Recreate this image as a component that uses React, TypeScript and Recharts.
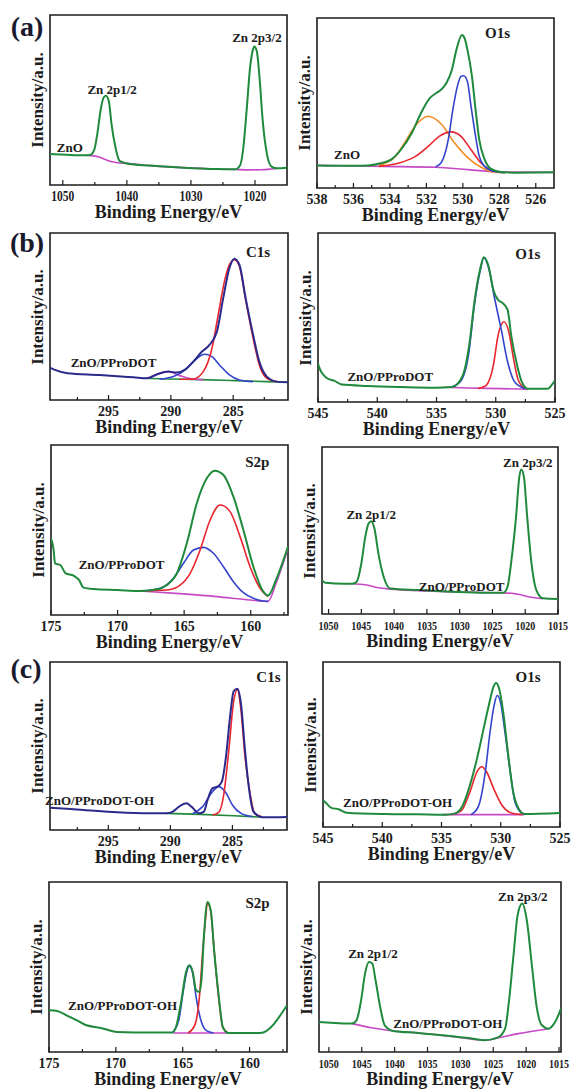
import React from "react";
import { LineChart, Line, XAxis, YAxis, ReferenceArea, ReferenceDot } from "recharts";

type Pt = [number, number];

const FONT = "'Liberation Serif', 'Times New Roman', Times, serif";
const INK = "#1c1c1c";
const GREEN = "#1f8a3c";
const MAGENTA = "#c64ac6";
const RED = "#e8262e";
const BLUE = "#3344cc";
const NAVY = "#2b2a8c";
const ORANGE = "#f28a22";

// ---- (a) ZnO, Zn 2p
const A_ZN_ENV: Pt[] = [[1052, 18.2], [1049.4, 17.8], [1046.5, 17.5], [1045.75, 17.6], [1045.1, 20.6], [1044.6, 30.4], [1044.1, 44], [1043.6, 51.6], [1043.25, 52.5], [1042.8, 49], [1042.4, 36], [1041.8, 22.5], [1041.1, 14], [1040, 12.7], [1036.4, 11.4], [1031.2, 10.2], [1026, 9.4], [1023.1, 9.2], [1022.3, 11.8], [1021.8, 22.5], [1021.3, 44], [1020.75, 69.6], [1020.3, 79.8], [1020.1, 81.4], [1019.7, 78.4], [1019.3, 63.7], [1018.8, 38.2], [1018.1, 17.6], [1017.4, 10.8], [1016.6, 9.8], [1015, 10.2]];
const A_ZN_BASE: Pt[] = [[1046.5, 17.5], [1045.5, 17.3], [1044.5, 16.6], [1043.5, 15.2], [1042.5, 13.8], [1041.5, 13.1], [1040, 12.7], [1036.4, 11.4], [1031.2, 10.2], [1026, 9.4], [1023.1, 9.1], [1021, 8.9], [1019, 9.0], [1017.4, 9.4], [1016.5, 9.7]];

// ---- (a) ZnO, O1s
const A_O_ENV: Pt[] = [[538, 13.3], [536.1, 13.1], [535.2, 13.3], [534.45, 14.7], [533.9, 17], [533.4, 22.5], [532.8, 32.4], [532.3, 44], [531.8, 53], [531.45, 55.9], [531.2, 57.8], [530.9, 61.8], [530.6, 69.6], [530.35, 81.4], [530.05, 90], [529.9, 88], [529.75, 81.4], [529.5, 65.7], [529.3, 46], [529.1, 28.4], [528.8, 16.7], [528.45, 11.2], [527.9, 9.4], [527, 9], [525, 9.2]];
const A_O_BLUE: Pt[] = [[531.5, 12.5], [531.2, 14.7], [530.8, 28.4], [530.55, 46], [530.3, 59.8], [530.1, 65.7], [529.95, 66], [529.75, 62.7], [529.55, 48], [529.3, 30.4], [529.1, 18.6], [528.8, 12.7], [528.3, 9.8], [527.7, 9]];
const A_O_RED: Pt[] = [[534.6, 12.7], [533.5, 14.7], [532.6, 18.6], [531.9, 24.5], [531.3, 30.4], [530.65, 33], [530.1, 30.4], [529.55, 22.5], [529, 14.7], [528.45, 10.4], [527.7, 9.2]];
const A_O_ORANGE: Pt[] = [[534.6, 13.3], [533.7, 18.6], [533.2, 26.5], [532.55, 37.3], [531.9, 42.2], [531.2, 37.8], [530.45, 26.5], [529.7, 17.6], [529, 12.2], [528.3, 9.4], [527.7, 9]];
const A_O_BASE: Pt[] = [[538, 13.3], [534.3, 12.7], [531.5, 12.2], [529.7, 10.8], [527.9, 9.4], [525, 9.2]];

// ---- (b) ZnO/PProDOT, C1s
const B_C_ENV: Pt[] = [[299.7, 19.4], [299.3, 18], [298.3, 16], [295.7, 15], [293, 13.6], [291.9, 13], [291.1, 15.4], [290.2, 17], [289.5, 16.4], [288.9, 18], [288.2, 23], [287.5, 29], [286.9, 33], [286.3, 41], [285.8, 61], [285.3, 79], [284.9, 84.6], [284.5, 81], [284, 61], [283.4, 39], [282.9, 23], [282.3, 14], [281.5, 11], [280.6, 10.6]];
const B_C_RED: Pt[] = [[289.3, 12.4], [288.2, 12.6], [287.4, 17], [286.7, 31], [286.2, 51], [285.7, 71], [285.3, 81], [284.9, 84], [284.5, 80], [284, 60], [283.4, 37], [282.9, 21], [282.3, 13], [281.5, 11]];
const B_C_BLUE: Pt[] = [[290.9, 12.4], [289.8, 14], [288.7, 19], [287.9, 25], [287.3, 27.4], [286.7, 26], [286.1, 21], [285.3, 15], [284.5, 12], [283.4, 11]];
const B_C_MAG: Pt[] = [[291.9, 13], [291.1, 15.4], [290.2, 17], [289.3, 14.6], [288.3, 12.6], [287.4, 12.2]];
const B_C_BASE: Pt[] = [[292.2, 13], [290.3, 12.6], [287.6, 12.2], [284.9, 11.6], [282.3, 11], [280.6, 10.6]];

// ---- (b) ZnO/PProDOT, O1s
const B_O_ENV: Pt[] = [[545, 22.8], [544.8, 18.8], [544.5, 15.8], [544.2, 13.9], [543.6, 12.5], [543, 10.3], [540.8, 9.5], [538, 8.9], [535.1, 8.5], [533.7, 8.9], [533.2, 10.9], [532.6, 19.8], [532.2, 35.6], [531.8, 59.4], [531.3, 79.2], [531, 85.7], [530.6, 80.2], [530.2, 66.3], [529.8, 60.4], [529.4, 58.4], [529, 54.5], [528.7, 39.6], [528.2, 21.8], [527.8, 11.9], [527.3, 7.9], [525.6, 7.9], [525.3, 9.9], [525, 12.9]];
const B_O_BLUE: Pt[] = [[533.7, 8.9], [532.9, 12.9], [532.3, 27.7], [531.8, 57.4], [531.3, 78.2], [531, 85.5], [530.6, 79.2], [530.1, 61.4], [529.5, 41.6], [529, 23.8], [528.4, 11.9], [527.5, 7.9]];
const B_O_RED: Pt[] = [[531.5, 7.9], [530.8, 9.9], [530.2, 21.8], [529.8, 39.6], [529.3, 47.5], [528.9, 41.6], [528.5, 25.7], [528.1, 12.9], [527.5, 7.9]];
const B_O_BASE: Pt[] = [[534.3, 8.7], [532.3, 8.3], [529.5, 7.9], [527.3, 7.5]];

// ---- (b) ZnO/PProDOT, S2p
const B_S_ENV: Pt[] = [[175, 45], [174.8, 38.2], [174.7, 30.4], [174.3, 29.4], [173.9, 24.5], [173.3, 23.1], [172.9, 20.6], [172.55, 16.1], [171.8, 15.3], [170, 14.7], [168.3, 14.1], [167, 15.1], [166.3, 17.6], [165.55, 24.5], [164.8, 42.2], [164.05, 65.7], [163.3, 80.4], [162.7, 84.9], [162.05, 82.4], [161.3, 69.6], [160.55, 50], [159.8, 28.4], [159.05, 13.7], [158.7, 11.4], [158.1, 20.6], [157.2, 40.2]];
const B_S_RED: Pt[] = [[168.3, 14.1], [166.3, 14.7], [165.3, 17.6], [164.55, 24.5], [163.8, 38.2], [163.05, 55.9], [162.3, 64.7], [161.55, 60.8], [160.8, 46.1], [160.05, 28.4], [159.3, 15.7], [158.7, 10.8]];
const B_S_BLUE: Pt[] = [[168.05, 14.1], [166.8, 15.7], [165.8, 21.6], [165.05, 30.4], [164.3, 38.2], [163.55, 39.8], [162.8, 36.3], [162.05, 28.4], [161.3, 19.6], [160.55, 13.1], [159.8, 9.8], [159.05, 8.2], [158.7, 8]];
const B_S_BASE: Pt[] = [[168.3, 14.1], [165.05, 12.4], [162.55, 10.8], [160.05, 8.8], [158.7, 8], [158.1, 18.6], [157.2, 39.2]];

// ---- (b) ZnO/PProDOT, Zn 2p
const B_ZN_ENV: Pt[] = [[1051, 20.3], [1050.5, 18.7], [1049, 18.3], [1046.4, 18.1], [1045.7, 19.3], [1045, 30.3], [1044.4, 46.2], [1043.9, 54.2], [1043.5, 55.6], [1043, 51.2], [1042.4, 36.3], [1041.6, 22.3], [1040.6, 15.3], [1036.3, 14.3], [1031.2, 13.3], [1026.1, 12.7], [1023.35, 12.7], [1022.7, 16.3], [1022.1, 32.3], [1021.4, 58.2], [1020.9, 82.1], [1020.6, 86.5], [1020.2, 82.1], [1019.7, 58.2], [1019.1, 32.3], [1018.3, 14.3], [1017.3, 9.4], [1015, 9]];
const B_ZN_BASE: Pt[] = [[1046.4, 18.1], [1044.4, 17.5], [1042.4, 15.7], [1040.4, 14.9], [1031.2, 13.3], [1024.1, 12.7], [1022.1, 12.4], [1021.1, 11.8], [1019.1, 10], [1017.3, 9.2]];

// ---- (c) ZnO/PProDOT-OH, C1s
const C_C_ENV: Pt[] = [[299.7, 13.3], [297, 11.9], [294.3, 10.5], [291.7, 9.9], [290.3, 9.9], [289.8, 10.9], [289.3, 13.9], [288.7, 15.9], [288.3, 13.9], [287.7, 9.9], [287.3, 10.9], [287, 17.9], [286.6, 24.9], [286.2, 25.8], [285.85, 28.8], [285.5, 44.7], [285.2, 66.6], [284.9, 82.5], [284.6, 84.1], [284.3, 74.6], [284, 48.7], [283.7, 26.8], [283.3, 10.9], [282.6, 7.6], [280.6, 7.8]];
const C_C_RED: Pt[] = [[286.6, 8.9], [286.1, 10.5], [285.7, 20.9], [285.3, 46.7], [284.9, 76.5], [284.6, 83.5], [284.3, 70.6], [284, 44.7], [283.6, 22.9], [283.2, 9.9], [282.6, 7.8]];
const C_C_BLUE: Pt[] = [[288.2, 9.7], [287.4, 13.9], [286.7, 21.9], [286.1, 25.8], [285.5, 21.9], [285, 14.9], [284.3, 9.9], [283.4, 8]];
const C_C_BASE: Pt[] = [[290.3, 9.9], [287.6, 9.3], [284.9, 8.5], [282.6, 7.6]];

// ---- (c) ZnO/PProDOT-OH, O1s
const C_O_ENV: Pt[] = [[545, 16.2], [544.7, 14.2], [544.3, 11.6], [543.7, 10.8], [543, 8.7], [539.8, 7.9], [537, 7.7], [534.7, 7.5], [533.9, 8.1], [533.2, 13.2], [532.6, 25.4], [532, 41.6], [531.5, 57.8], [531, 74], [530.6, 85.2], [530.4, 87.2], [530.15, 84.2], [529.8, 70], [529.4, 45.6], [529, 23.3], [528.5, 11.2], [528, 7.9], [525, 8.5]];
const C_O_BLUE: Pt[] = [[532.5, 7.5], [531.9, 12.2], [531.3, 33.5], [530.9, 57.8], [530.55, 74], [530.3, 79.7], [530, 75], [529.65, 57.8], [529.2, 33.5], [528.8, 15.2], [528.2, 8.1]];
const C_O_RED: Pt[] = [[534.2, 7.5], [533.3, 10.1], [532.6, 21.3], [532, 33.5], [531.6, 36.5], [531.2, 33.5], [530.6, 23.3], [529.9, 13.2], [529.1, 8.5], [528.2, 7.5]];
const C_O_BASE: Pt[] = [[534.9, 7.5], [528, 7.5]];

// ---- (c) ZnO/PProDOT-OH, S2p
const C_S_ENV: Pt[] = [[175, 24.5], [174.4, 24.1], [173.7, 21.6], [172.9, 18.6], [172.2, 15.7], [171.2, 14.3], [169.9, 11.8], [167.4, 11.4], [165.8, 11.4], [165.5, 14.7], [165.1, 30.4], [164.75, 47.1], [164.5, 51], [164.25, 47.1], [164, 36.3], [163.75, 35.3], [163.6, 42.2], [163.4, 69.6], [163.15, 88.2], [162.9, 83.3], [162.65, 59.8], [162.3, 32.4], [162, 14.7], [161.6, 11.2], [159.2, 11.2], [157.2, 27.5]];
const C_S_BLUE: Pt[] = [[165.8, 11.2], [165.3, 18.6], [164.95, 36.3], [164.7, 47.1], [164.5, 50.4], [164.25, 46.1], [164, 32.4], [163.6, 17.6], [163.2, 12.4], [162.7, 11.2]];
const C_S_RED: Pt[] = [[164.6, 11.2], [164.1, 15.7], [163.75, 32.4], [163.5, 59.8], [163.3, 77.5], [163.15, 87.6], [162.9, 82.4], [162.65, 59.8], [162.3, 31.4], [162, 14.3], [161.6, 11.2]];
const C_S_BASE: Pt[] = [[165.7, 11.2], [161.7, 11.2]];

// ---- (c) ZnO/PProDOT-OH, Zn 2p
const C_ZN_ENV: Pt[] = [[1051.5, 17.6], [1049.1, 17.1], [1046.5, 16.7], [1045.8, 18.6], [1045.1, 30.4], [1044.5, 46.1], [1043.9, 52.9], [1043.4, 52], [1042.9, 42.2], [1042.2, 26.5], [1041.5, 15.7], [1040.2, 12.4], [1036.4, 11.2], [1031.3, 9.2], [1028.3, 8], [1026.3, 6.9], [1024.2, 8.8], [1023.2, 13.7], [1022.6, 30.4], [1021.9, 57.8], [1021.3, 80.4], [1020.6, 87.3], [1019.9, 77.5], [1019.1, 50], [1018.4, 26.5], [1017.6, 15.7], [1016.6, 13.7], [1015.6, 17.6], [1014.7, 25.5]];
const C_ZN_BASE: Pt[] = [[1046.5, 16.7], [1043.5, 14.3], [1040.2, 12.4], [1036.4, 11.2], [1031.3, 9.2], [1026.3, 6.9], [1024.2, 8.4], [1021.2, 10.8], [1016.6, 13.7]];

// ---- tick values
const ZN_A_MAJOR = [1050, 1040, 1030, 1020];
const ZN_A_MINOR = [1045, 1035, 1025];
const O_A_MAJOR = [538, 536, 534, 532, 530, 528, 526];
const O_A_MINOR = [537, 535, 533, 531, 529, 527];
const C_MAJOR = [295, 290, 285];
const C_MINOR = [297.5, 292.5, 287.5, 282.5];
const O_MAJOR = [545, 540, 535, 530, 525];
const O_MINOR = [542.5, 537.5, 532.5, 527.5];
const S_MAJOR = [175, 170, 165, 160];
const S_MINOR = [172.5, 167.5, 162.5, 157.5];
const ZN_MAJOR = [1050, 1045, 1040, 1035, 1030, 1025, 1020, 1015];

type Curve = { pts: Pt[]; color: string; w?: number };
type Note = { x: number; y: number; text: string; size?: number };
type PanelDef = {
  box: [number, number, number, number];
  range: [number, number];
  major: number[];
  minor: number[];
  curves: Curve[];
  notes: Note[];
  squeeze?: number;
  tickSize?: number;
};

const PANELS: PanelDef[] = [
  {
    box: [50, 15, 287, 185], range: [1015, 1052], major: ZN_A_MAJOR, minor: ZN_A_MINOR, squeeze: 23,
    curves: [{ pts: A_ZN_BASE, color: MAGENTA }, { pts: A_ZN_ENV, color: GREEN, w: 2 }],
    notes: [{ x: 1042.3, y: 56.5, text: "Zn 2p1/2" }, { x: 1019.7, y: 87, text: "Zn 2p3/2" }, { x: 1048.9, y: 22.4, text: "ZnO" }],
  },
  {
    box: [317, 18, 554, 188], range: [525, 538], major: O_A_MAJOR, minor: O_A_MINOR,
    curves: [
      { pts: A_O_BASE, color: MAGENTA }, { pts: A_O_ORANGE, color: ORANGE }, { pts: A_O_RED, color: RED },
      { pts: A_O_BLUE, color: BLUE }, { pts: A_O_ENV, color: GREEN, w: 2 },
    ],
    notes: [{ x: 528.1, y: 91.2, text: "O1s", size: 15 }, { x: 536.35, y: 20, text: "ZnO" }],
  },
  {
    box: [50, 233, 288, 400], range: [280.6, 299.7], major: C_MAJOR, minor: C_MINOR,
    curves: [
      { pts: B_C_BASE, color: GREEN }, { pts: B_C_MAG, color: MAGENTA }, { pts: B_C_BLUE, color: BLUE },
      { pts: B_C_RED, color: RED }, { pts: B_C_ENV, color: NAVY, w: 2 },
    ],
    notes: [{ x: 283.0, y: 88.6, text: "C1s", size: 15 }, { x: 294.6, y: 22.8, text: "ZnO/PProDOT" }],
  },
  {
    box: [318, 233, 555, 402], range: [525, 545], major: O_MAJOR, minor: O_MINOR,
    curves: [
      { pts: B_O_BASE, color: MAGENTA }, { pts: B_O_RED, color: RED }, { pts: B_O_BLUE, color: BLUE },
      { pts: B_O_ENV, color: GREEN, w: 2 },
    ],
    notes: [{ x: 527.3, y: 87.6, text: "O1s", size: 15 }, { x: 538.9, y: 15.4, text: "ZnO/PProDOT" }],
  },
  {
    box: [51, 445, 288, 615], range: [157.2, 175], major: S_MAJOR, minor: S_MINOR,
    curves: [
      { pts: B_S_BASE, color: MAGENTA }, { pts: B_S_BLUE, color: BLUE }, { pts: B_S_RED, color: RED },
      { pts: B_S_ENV, color: GREEN, w: 2 },
    ],
    notes: [{ x: 159.5, y: 90, text: "S2p", size: 15 }, { x: 169.7, y: 30, text: "ZnO/PProDOT" }],
  },
  {
    box: [322, 447, 558, 614], range: [1015, 1051], major: ZN_MAJOR, minor: [], squeeze: 20, tickSize: 12,
    curves: [{ pts: B_ZN_BASE, color: MAGENTA }, { pts: B_ZN_ENV, color: GREEN, w: 2 }],
    notes: [{ x: 1043.5, y: 59.9, text: "Zn 2p1/2" }, { x: 1019.6, y: 91, text: "Zn 2p3/2" }, { x: 1029.7, y: 16.8, text: "ZnO/PProDOT" }],
  },
  {
    box: [50, 662, 287, 830], range: [280.6, 299.7], major: C_MAJOR, minor: C_MINOR,
    curves: [
      { pts: C_C_BASE, color: GREEN }, { pts: C_C_BLUE, color: BLUE }, { pts: C_C_RED, color: RED },
      { pts: C_C_ENV, color: NAVY, w: 2 },
    ],
    notes: [{ x: 282.1, y: 91, text: "C1s", size: 15 }, { x: 295.7, y: 17.9, text: "ZnO/PProDOT-OH" }],
  },
  {
    box: [323, 662, 560, 827], range: [525, 545], major: O_MAJOR, minor: O_MINOR,
    curves: [
      { pts: C_O_BASE, color: MAGENTA }, { pts: C_O_RED, color: RED }, { pts: C_O_BLUE, color: BLUE },
      { pts: C_O_ENV, color: GREEN, w: 2 },
    ],
    notes: [{ x: 527.7, y: 90.9, text: "O1s", size: 15 }, { x: 538.7, y: 15.2, text: "ZnO/PProDOT-OH" }],
  },
  {
    box: [49, 882, 287, 1052], range: [157.2, 175], major: S_MAJOR, minor: S_MINOR,
    curves: [
      { pts: C_S_BASE, color: MAGENTA }, { pts: C_S_BLUE, color: BLUE }, { pts: C_S_RED, color: RED },
      { pts: C_S_ENV, color: GREEN, w: 2 },
    ],
    notes: [{ x: 159.4, y: 88, text: "S2p", size: 15 }, { x: 169.5, y: 27.6, text: "ZnO/PProDOT-OH" }],
  },
  {
    box: [319, 882, 561, 1052], range: [1014.7, 1051.5], major: ZN_MAJOR, minor: [], squeeze: 20, tickSize: 12,
    curves: [{ pts: C_ZN_BASE, color: MAGENTA }, { pts: C_ZN_ENV, color: GREEN, w: 2 }],
    notes: [{ x: 1043.3, y: 58.2, text: "Zn 2p1/2" }, { x: 1020.5, y: 91.8, text: "Zn 2p3/2" }, { x: 1031.9, y: 17, text: "ZnO/PProDOT-OH" }],
  },
];

const LETTERS = [
  { text: "(a)", x: 27, y: 27 },
  { text: "(b)", x: 27, y: 243 },
  { text: "(c)", x: 26, y: 669 },
];

const PAGE_W = 573;

const textBase: React.CSSProperties = {
  position: "absolute",
  fontFamily: FONT,
  fontWeight: "bold",
  color: INK,
  whiteSpace: "nowrap",
  lineHeight: 1,
};

function Panel({ box, range, major, minor, curves, notes, squeeze, tickSize }: PanelDef) {
  const [l, t, r, b] = box;
  const w = r - l;
  const h = b - t;
  const PADL = 16;
  const PADR = Math.min(16, PAGE_W - r);
  const PADT = 4;
  const AXH = 44;

  const renderTick = (p: any) => {
    const v = p.payload.value;
    const isMajor = major.includes(v);
    return (
      <g>
        <line x1={p.x} x2={p.x} y1={p.y} y2={p.y - (isMajor ? 5 : 3)} stroke={INK} strokeWidth={1.2} />
        {isMajor && (
          <text
            x={p.x}
            y={p.y + 16}
            textAnchor="middle"
            fontFamily={FONT}
            fontWeight="bold"
            fontSize={tickSize ?? 14}
            fill={INK}
            {...(squeeze ? { textLength: squeeze, lengthAdjust: "spacingAndGlyphs" } : {})}
          >
            {v}
          </text>
        )}
      </g>
    );
  };

  return (
    <>
      <div style={{ position: "absolute", left: l - PADL, top: t - PADT }}>
        <LineChart width={w + PADL + PADR} height={h + PADT + AXH} margin={{ top: PADT, right: PADR, bottom: 0, left: PADL }}>
          <XAxis
            type="number"
            dataKey="x"
            domain={range}
            reversed
            allowDataOverflow
            ticks={[...major, ...minor]}
            interval={0}
            tick={renderTick}
            tickLine={false}
            axisLine={false}
            tickSize={0}
            tickMargin={0}
            height={AXH}
          />
          <YAxis type="number" dataKey="y" domain={[0, 100]} hide allowDataOverflow />
          {curves.map((c, i) => (
            <Line
              key={i}
              data={c.pts.map(([x, y]) => ({ x, y }))}
              dataKey="y"
              type="monotone"
              stroke={c.color}
              strokeWidth={c.w ?? 1.6}
              dot={false}
              activeDot={false}
              isAnimationActive={false}
            />
          ))}
          <ReferenceArea
            x1={range[0]}
            x2={range[1]}
            y1={0}
            y2={100}
            fill="none"
            stroke={INK}
            strokeWidth={1.6}
            ifOverflow="visible"
          />
          {notes.map((n, i) => (
            <ReferenceDot
              key={i}
              x={n.x}
              y={n.y}
              r={0}
              fill="none"
              stroke="none"
              label={{
                value: n.text,
                position: "center",
                fill: INK,
                fontFamily: FONT,
                fontWeight: "bold",
                fontSize: n.size ?? 13,
              }}
            />
          ))}
        </LineChart>
      </div>
      <div style={{ ...textBase, fontSize: 18, left: (l + r) / 2, top: b + 27, transform: "translate(-50%, -50%)" }}>
        Binding Energy/eV
      </div>
      <div
        style={{
          ...textBase,
          fontSize: 17,
          left: l - 13,
          top: (t + b) / 2,
          transform: "translate(-50%, -50%) rotate(-90deg)",
        }}
      >
        Intensity/a.u.
      </div>
    </>
  );
}

export default function App() {
  return (
    <div style={{ position: "absolute", left: 0, top: 0, width: PAGE_W, height: 1089, background: "#fff", overflow: "hidden" }}>
      {PANELS.map((p, i) => (
        <Panel key={i} {...p} />
      ))}
      {LETTERS.map((lt) => (
        <div
          key={lt.text}
          style={{ ...textBase, fontSize: 28, left: lt.x, top: lt.y, transform: "translate(-50%, -50%)", color: "#1a1a2e" }}
        >
          {lt.text}
        </div>
      ))}
    </div>
  );
}
